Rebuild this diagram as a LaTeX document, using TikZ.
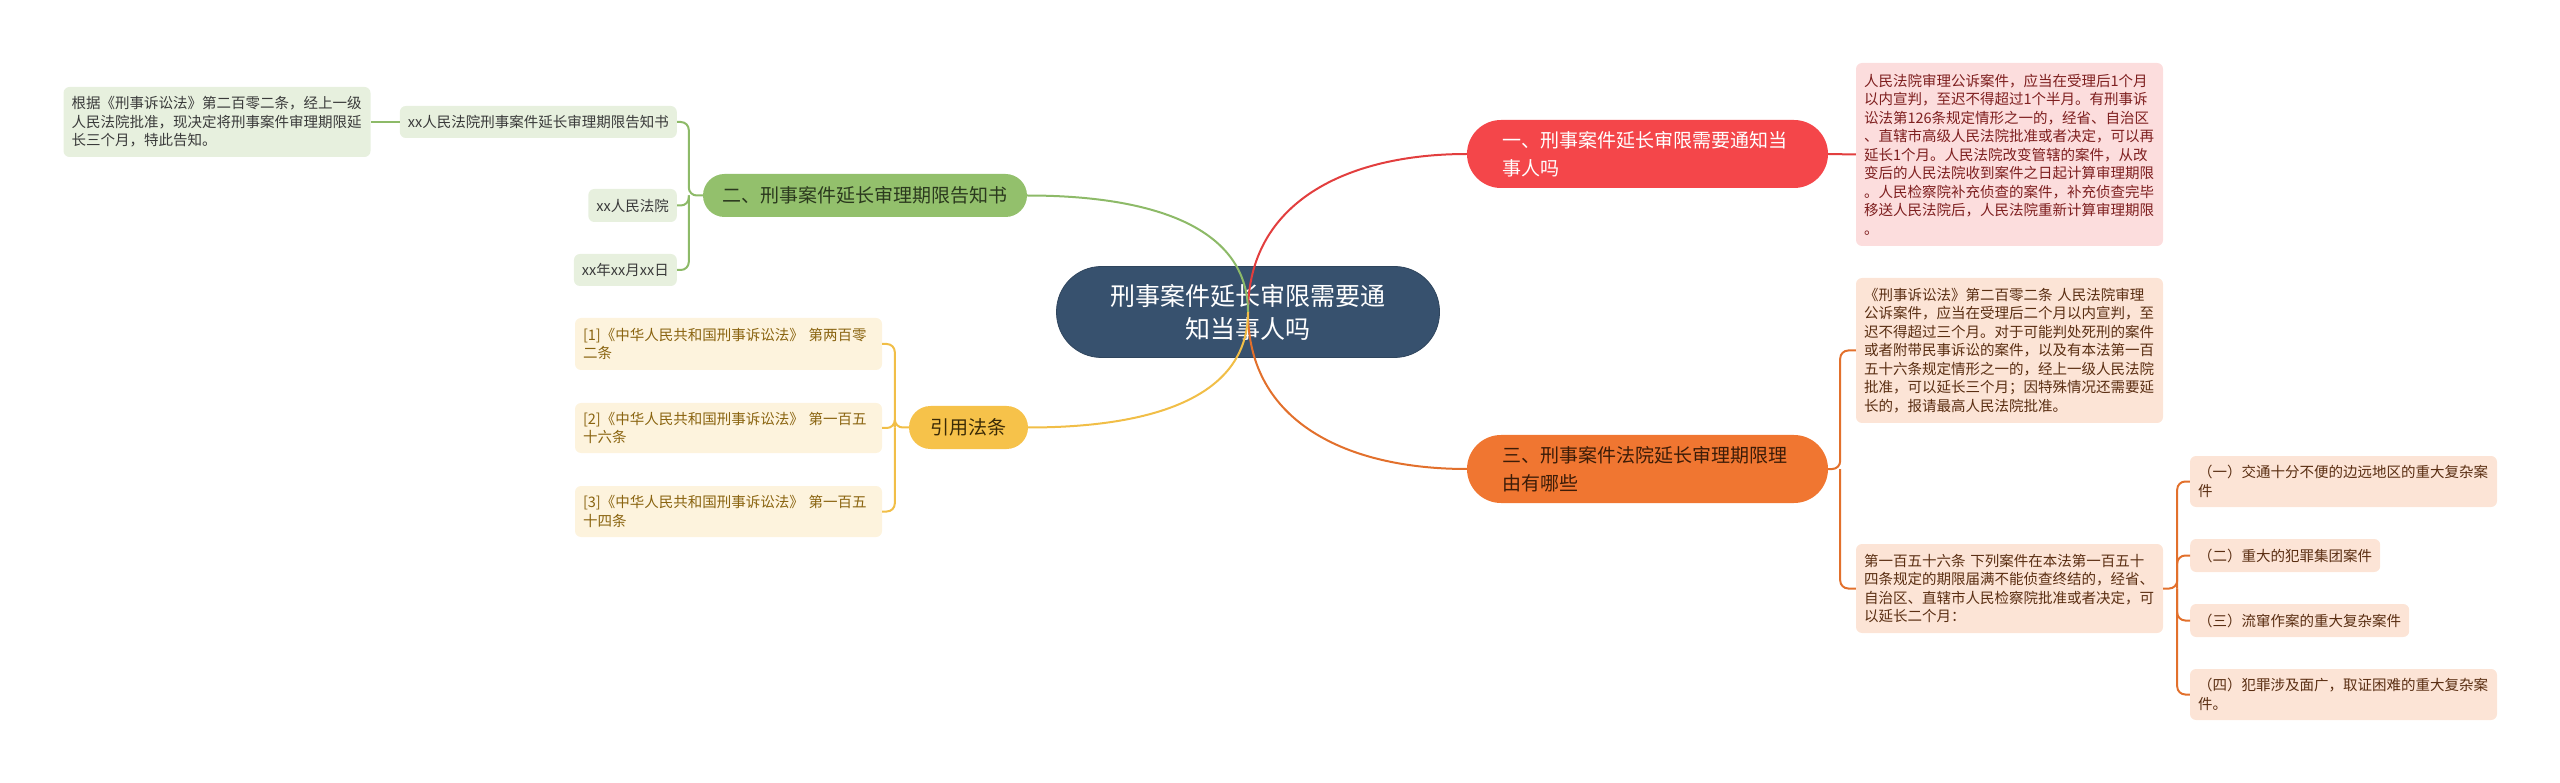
\documentclass[tikz,border=0pt]{standalone}
\usepackage{fontspec}
\setmainfont{Noto Sans CJK SC}
\definecolor{rootblue}{HTML}{37516E}
\definecolor{redmain}{HTML}{F4464A}
\definecolor{redleaf}{HTML}{FCDDDD}
\definecolor{redtext}{HTML}{7E1F1F}
\definecolor{ormain}{HTML}{F07631}
\definecolor{orleaf}{HTML}{FCE4D6}
\definecolor{ortext}{HTML}{3C1C08}
\definecolor{orleaftext}{HTML}{5A2E12}
\definecolor{greenmain}{HTML}{93C06C}
\definecolor{greenleaf}{HTML}{E7F0DE}
\definecolor{gtext}{HTML}{2B391E}
\definecolor{gleaftext}{HTML}{3A3A3A}
\definecolor{yelmain}{HTML}{F6C24A}
\definecolor{yelleaf}{HTML}{FDF3DD}
\definecolor{ytext}{HTML}{3A2A06}
\definecolor{yleaftext}{HTML}{8A6410}
\definecolor{redline}{HTML}{E23E3E}
\definecolor{greenline}{HTML}{8DBA68}
\definecolor{orline}{HTML}{E2702C}
\definecolor{yelline}{HTML}{F1BE47}

\tikzset{root/.style={fill=rootblue, draw=rootblue!85!black, line width=0.8pt, text=white, rounded corners=45, minimum width=383, minimum height=91, inner sep=0pt, align=center, font=\fontsize{25}{33}\selectfont},
         topic/.style={rounded corners=34, minimum height=68, text width=291, inner xsep=35, inner ysep=0pt, align=left, font=\fontsize{19}{28}\selectfont},
         pill/.style={rounded corners=21.5, minimum height=43, inner sep=0pt, align=center, font=\fontsize{19}{28}\selectfont},
         leaf/.style={rounded corners=6, inner xsep=8, inner ysep=0pt, align=left, font=\fontsize{14.5}{18.5}\selectfont},
         wide/.style={text width=291},
         branch/.style={line width=2pt, rounded corners=8}
}

\begin{document}
\begin{tikzpicture}[x=1pt, y=-1pt]
  \useasboundingbox (0,0) rectangle (2560,783);

  \node [root] (root) at (1248,312) {刑事案件延长审限需要通\\知当事人吗};

  \node [topic, fill=redmain, text=white] (notify) at (1647.5,154) {一、刑事案件延长审限需要通知当\\事人吗};
  \node [topic, fill=ormain, text=ortext] (reason) at (1647.5,469) {三、刑事案件法院延长审理期限理\\由有哪些};
  \node [pill, fill=greenmain, text=gtext, minimum width=324] (notice) at (865,195.5) {二、刑事案件延长审理期限告知书};
  \node [pill, fill=yelmain, text=ytext, minimum width=119] (laws) at (968.5,427.5) {引用法条};

  % right side
  \node [leaf, wide, fill=redleaf, text=redtext, minimum height=183] (notifytxt) at (2009.5,154.5) {人民法院审理公诉案件，应当在受理后1个月\\以内宣判，至迟不得超过1个半月。有刑事诉\\讼法第126条规定情形之一的，经省、自治区\\、直辖市高级人民法院批准或者决定，可以再\\延长1个月。人民法院改变管辖的案件，从改\\变后的人民法院收到案件之日起计算审理期限\\。人民检察院补充侦查的案件，补充侦查完毕\\移送人民法院后，人民法院重新计算审理期限\\。};
  \node [leaf, wide, fill=orleaf, text=orleaftext, minimum height=145] (art202) at (2009.5,350.5) {《刑事诉讼法》第二百零二条~人民法院审理\\公诉案件，应当在受理后二个月以内宣判，至\\迟不得超过三个月。对于可能判处死刑的案件\\或者附带民事诉讼的案件，以及有本法第一百\\五十六条规定情形之一的，经上一级人民法院\\批准，可以延长三个月；因特殊情况还需要延\\长的，报请最高人民法院批准。};
  \node [leaf, wide, fill=orleaf, text=orleaftext, minimum height=89] (art156) at (2009.5,588.5) {第一百五十六条~下列案件在本法第一百五十\\四条规定的期限届满不能侦查终结的，经省、\\自治区、直辖市人民检察院批准或者决定，可\\以延长二个月：};
  \node [leaf, wide, fill=orleaf, text=orleaftext, minimum height=51] (case1) at (2343.5,481.5) {（一）交通十分不便的边远地区的重大复杂案\\件};
  \node [leaf, fill=orleaf, text=orleaftext, minimum height=33, anchor=west] (case2) at (2190,555.5) {（二）重大的犯罪集团案件};
  \node [leaf, fill=orleaf, text=orleaftext, minimum height=33, anchor=west] (case3) at (2190,620.5) {（三）流窜作案的重大复杂案件};
  \node [leaf, wide, fill=orleaf, text=orleaftext, minimum height=51] (case4) at (2343.5,694.5) {（四）犯罪涉及面广，取证困难的重大复杂案\\件。};

  % left side
  \node [leaf, fill=greenleaf, text=gleaftext, minimum height=32, anchor=east] (title) at (677,122) {xx人民法院刑事案件延长审理期限告知书};
  \node [leaf, fill=greenleaf, text=gleaftext, minimum height=33, anchor=east] (court) at (677,205.5) {xx人民法院};
  \node [leaf, fill=greenleaf, text=gleaftext, minimum height=32, anchor=east] (date) at (677,270) {xx年xx月xx日};
  \node [leaf, wide, fill=greenleaf, text=gleaftext, minimum height=70] (body) at (217,122) {根据《刑事诉讼法》第二百零二条，经上一级\\人民法院批准，现决定将刑事案件审理期限延\\长三个月，特此告知。};

  \node [leaf, wide, fill=yelleaf, text=yleaftext, minimum height=52] (law1) at (728.5,344) {[1]《中华人民共和国刑事诉讼法》~第两百零\\二条};
  \node [leaf, wide, fill=yelleaf, text=yleaftext, minimum height=50] (law2) at (728.5,428) {[2]《中华人民共和国刑事诉讼法》~第一百五\\十六条};
  \node [leaf, wide, fill=yelleaf, text=yleaftext, minimum height=51] (law3) at (728.5,511.5) {[3]《中华人民共和国刑事诉讼法》~第一百五\\十四条};

  % main curves
  \draw [redline, line width=2pt] (root.center) .. controls +(0,-110) and +(-120,0) .. (notify.west);
  \draw [orline, line width=2pt] (root.center) .. controls +(0,110) and +(-120,0) .. (reason.west);
  \draw [greenline, line width=2pt] (root.center) .. controls +(0,-85) and +(125,0) .. (notice.east);
  \draw [yelline, line width=2pt] (root.center) .. controls +(0,85) and +(125,0) .. (laws.east);

  % branches
  \draw [redline, line width=2pt] (notify.east) -- (notifytxt.west);
  \draw [orline, branch] (reason.east) -- ++(12,0) coordinate (rb) |- (art202.west);
  \draw [orline, branch] (rb) |- (art156.west);
  \draw [orline, branch] (art156.east) -- ++(14,0) coordinate (cb) |- (case1.west);
  \draw [orline, branch] (cb) |- (case2.west);
  \draw [orline, branch] (cb) |- (case3.west);
  \draw [orline, branch] (cb) |- (case4.west);

  \draw [greenline, branch] (notice.west) -- ++(-14,0) coordinate (nb) |- (title.east);
  \draw [greenline, branch] (nb) |- (court.east);
  \draw [greenline, branch] (nb) |- (date.east);
  \draw [greenline, line width=2pt] (title.west) -- (body.east);

  \draw [yelline, branch] (laws.west) -- ++(-14,0) coordinate (lb) |- (law1.east);
  \draw [yelline, branch] (lb) |- (law2.east);
  \draw [yelline, branch] (lb) |- (law3.east);
\end{tikzpicture}
\end{document}
